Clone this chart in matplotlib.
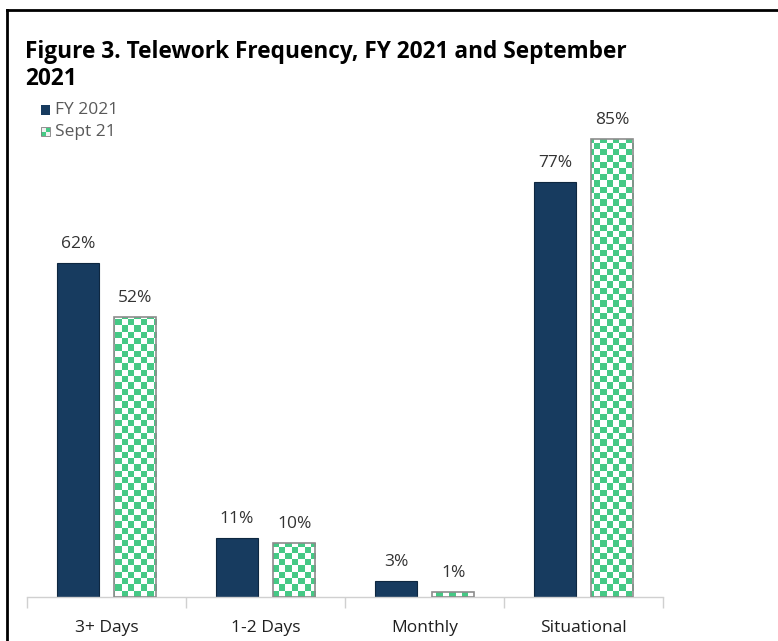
import numpy as np
import matplotlib
matplotlib.use("Agg")
import matplotlib.pyplot as plt
from matplotlib.lines import Line2D
from matplotlib.patches import Rectangle
from matplotlib.colors import ListedColormap

categories = ["3+ Days", "1-2 Days", "Monthly", "Situational"]
fy2021 = [62, 11, 3, 77]
sept21 = [52, 10, 1, 85]
series_names = ["FY 2021", "Sept 21"]

NAVY = "#173B5F"
GREEN = "#45C985"
LABEL_GREY = "#333333"
FONT = "Open Sans"

W, H = 778, 641
fig = plt.figure(figsize=(W / 100, H / 100), dpi=100)
fig.patch.set_facecolor("white")

ax_px = (27, 112, 663, 597)  # left, top, right, bottom in pixels
ax = fig.add_axes([ax_px[0] / W, (H - ax_px[3]) / H,
                   (ax_px[2] - ax_px[0]) / W, (ax_px[3] - ax_px[1]) / H])
ax.set_xlim(-0.5, len(categories) - 0.5)
ax.set_ylim(0, 90)

x = np.arange(len(categories))
width = 0.265
offset = 0.18

bars1 = ax.bar(x - offset, fy2021, width, color=NAVY, edgecolor="#0E2740",
               linewidth=0.8, zorder=2)
bars2 = ax.bar(x + offset, sept21, width, color="white", edgecolor="none",
               linewidth=0, zorder=2)

# checkerboard fill for the second series, clipped to each bar
cell = 6.3  # pixels per check
nx = int(round((ax_px[2] - ax_px[0]) / cell))
ny = int(round((ax_px[3] - ax_px[1]) / cell))
checks = (np.add.outer(np.arange(ny), np.arange(nx)) % 2).astype(float)
cmap = ListedColormap(["white", GREEN])
for b in bars2:
    im = ax.imshow(checks, extent=(-0.5, len(categories) - 0.5, 0, 90),
                   origin="lower", cmap=cmap, aspect="auto",
                   interpolation="nearest", zorder=3)
    im.set_clip_path(b)
ax.set_xlim(-0.5, len(categories) - 0.5)
ax.set_ylim(0, 90)

for b in bars2:
    ax.add_patch(Rectangle(b.get_xy(), b.get_width(), b.get_height(),
                           fill=False, edgecolor="#8C8C8C", linewidth=1.2,
                           zorder=4))

for bars, vals in ((bars1, fy2021), (bars2, sept21)):
    for b, v in zip(bars, vals):
        ax.text(b.get_x() + b.get_width() / 2, v + 2.0, f"{v}%",
                ha="center", va="bottom", fontsize=12.5, color=LABEL_GREY,
                family=FONT, zorder=5)

for s in ("top", "right", "left"):
    ax.spines[s].set_visible(False)
ax.spines["bottom"].set_color("#D0D0D0")
ax.spines["bottom"].set_linewidth(1.0)
ax.set_yticks([])
ax.set_xticks(np.arange(len(categories) + 1) - 0.5)
ax.set_xticklabels([])
ax.tick_params(axis="x", length=8, color="#D0D0D0", width=1.0)
for xi, c in zip(x, categories):
    ax.text(xi, -4.2, c, ha="center", va="top", fontsize=12.5,
            color="#1F1F1F", family=FONT)
ax.set_facecolor("none")

# title
fig.text(25 / W, 1 - 58 / H, "Figure 3. Telework Frequency, FY 2021 and September",
         fontsize=16.3, fontweight="bold", family=FONT, color="black",
         va="baseline", ha="left")
fig.text(25 / W, 1 - 85 / H, "2021",
         fontsize=16.3, fontweight="bold", family=FONT, color="black",
         va="baseline", ha="left")

# legend
leg_y = [110, 132]
for i, (name, y) in enumerate(zip(series_names, leg_y)):
    x0, y0 = 41, y - 4.5
    if i == 0:
        fig.patches.append(Rectangle((x0 / W, 1 - (y0 + 9) / H), 9 / W, 9 / H,
                                     transform=fig.transFigure,
                                     facecolor=NAVY, edgecolor="none"))
    else:
        for r in range(2):
            for c in range(2):
                col = GREEN if (r + c) % 2 else "#F2F2F2"
                fig.patches.append(Rectangle(((x0 + 4.5 * c) / W, 1 - (y0 + 4.5 * (r + 1)) / H),
                                             4.5 / W, 4.5 / H,
                                             transform=fig.transFigure,
                                             facecolor=col, edgecolor="none"))
        fig.patches.append(Rectangle((x0 / W, 1 - (y0 + 9) / H), 9 / W, 9 / H,
                                     transform=fig.transFigure, fill=False,
                                     edgecolor="#7F7F7F", linewidth=0.6))
    fig.text(55 / W, 1 - y / H, name, fontsize=12.5, color="#595959",
             family=FONT, va="center", ha="left")

# outer frame (left and top edges)
fig.add_artist(Line2D([7 / W, 7 / W], [0, 1 - 10 / H], transform=fig.transFigure,
                      color="black", linewidth=2.0))
fig.add_artist(Line2D([7 / W, 1], [1 - 10 / H, 1 - 10 / H], transform=fig.transFigure,
                      color="black", linewidth=2.0))

fig.savefig("out.png", dpi=100)
